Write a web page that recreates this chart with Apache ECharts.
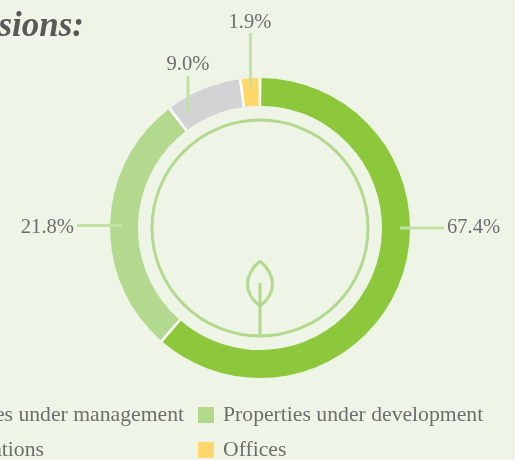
<!DOCTYPE html>
<html><head><meta charset="utf-8">
<style>html,body{margin:0;padding:0;background:#eff5e6;overflow:hidden}#c{width:515px;height:460px}</style>
<script src="https://cdn.jsdelivr.net/npm/echarts@6/dist/echarts.min.js"></script>
</head><body><div id="c"></div>
<script>
const categories = ['Properties under management','Properties under development','Hotel operations','Offices'];
const labelValues = [67.4,21.8,9.0,1.9];
const drawnShares = [61.4,28.3,8.2,2.1];
const colors = ['#8dc83c','#b3d98f','#d1d3d4','#ffd76b'];
const FONT = '"Liberation Serif", serif';
const TXT = '#6b6e6e';
const LINE = '#c2e2a4';
const labelAnchors = [
 {x:447,y:228,align:'left',verticalAlign:'middle',pts:[[400,228],[422,228],[444,228]]},
 {x:74,y:228,align:'right',verticalAlign:'middle',pts:[[122,225.5],[100,225.5],[77,225.5]]},
 {x:188,y:65,align:'center',verticalAlign:'middle',pts:[[188,113],[188,95],[188,76]]},
 {x:250,y:23,align:'center',verticalAlign:'middle',pts:[[250.5,88],[250.5,60],[250.5,33]]}
];
const chart = echarts.init(document.getElementById('c'),null,{renderer:'canvas'});
const legendItems = [
 {name:categories[0],tx:184,ty:415,align:'right'},
 {name:categories[1],sx:198,sy:407,tx:223,ty:415,align:'left',color:colors[1]},
 {name:categories[2],tx:44,ty:450,align:'right'},
 {name:categories[3],sx:198,sy:442,tx:223,ty:450,align:'left',color:colors[3]}
];
const leafStroke = {stroke:'#b3d98f',lineWidth:3,fill:'none'};
const graphics = [
 {type:'text',x:84,y:27,silent:true,style:{text:'Emissions:',font:'italic bold 35px '+FONT,fill:'#58595b',textAlign:'right',textVerticalAlign:'middle'}},
 {type:'circle',shape:{cx:260,cy:228,r:108},style:{fill:'none',stroke:'#b3d98f',lineWidth:3},silent:true},
 {type:'bezierCurve',shape:{x1:260,y1:261,cpx1:252,cpy1:268,cpx2:247.5,cpy2:276,x2:247.5,y2:284},style:leafStroke,silent:true},
 {type:'bezierCurve',shape:{x1:247.5,y1:284,cpx1:247.5,cpy1:292,cpx2:252,cpy2:300,x2:260,y2:306},style:leafStroke,silent:true},
 {type:'bezierCurve',shape:{x1:260,y1:261,cpx1:268,cpy1:268,cpx2:272.5,cpy2:276,x2:272.5,y2:284},style:leafStroke,silent:true},
 {type:'bezierCurve',shape:{x1:272.5,y1:284,cpx1:272.5,cpy1:292,cpx2:268,cpy2:300,x2:260,y2:306},style:leafStroke,silent:true},
 {type:'line',shape:{x1:260,y1:283,x2:260,y2:336},style:{stroke:'#b3d98f',lineWidth:3},silent:true}
];
legendItems.forEach(d=>{
 if(d.color) graphics.push({type:'rect',shape:{x:d.sx,y:d.sy,width:16,height:16},style:{fill:d.color},silent:true});
 graphics.push({type:'text',x:d.tx,y:d.ty,silent:true,style:{text:d.name,font:'21.7px '+FONT,fill:TXT,textAlign:d.align,textVerticalAlign:'middle'}});
});
const ring = {type:'pie',center:[260,228],radius:[122,150],startAngle:90,clockwise:true,silent:true,avoidLabelOverlap:false,emphasis:{disabled:true}};
chart.setOption({
 backgroundColor:'#eff5e6',
 animation:false,
 graphic:graphics,
 series:[
  {...ring,z:1,data:[{name:'base',value:1,itemStyle:{color:'#ffffff'}}],label:{show:false},labelLine:{show:false}},
  {...ring,z:2,padAngle:1.1,minAngle:0,
   data:categories.map((n,i)=>({name:n,value:drawnShares[i],itemStyle:{color:colors[i]}})),
   label:{show:false},labelLine:{show:false}},
  {...ring,z:3,
   data:categories.map((n,i)=>({name:n,value:labelValues[i],itemStyle:{color:'rgba(0,0,0,0)'}})),
   label:{show:true,position:'outside',formatter:p=>p.value.toFixed(1)+'%',fontFamily:FONT,fontSize:20.6,color:TXT},
   labelLine:{show:true,lineStyle:{color:LINE,width:3}},
   labelLayout:p=>{const a=labelAnchors[p.dataIndex];return {x:a.x,y:a.y,align:a.align,verticalAlign:a.verticalAlign,labelLinePoints:a.pts};}
  }
 ]
});
</script></body></html>
